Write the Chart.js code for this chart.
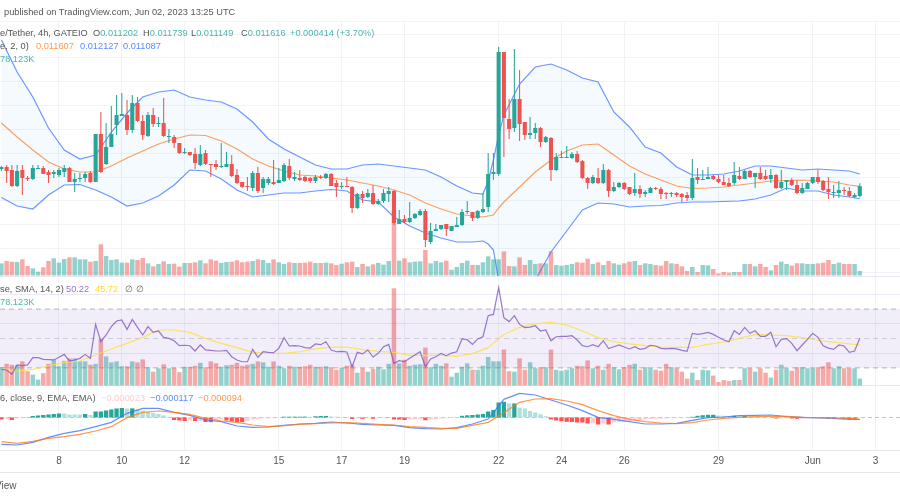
<!DOCTYPE html>
<html><head><meta charset="utf-8">
<script src="https://cdn.jsdelivr.net/npm/chart.js@4"></script>
<style>
html,body{margin:0;padding:0;background:#fff;overflow:hidden}
#wrap{position:relative;width:900px;height:500px;overflow:hidden;font-family:"Liberation Sans",sans-serif;font-size:9.25px;color:#555}
canvas{position:absolute;left:0;top:0}
.t{position:absolute;white-space:pre;line-height:12px;background:transparent}
.g{color:#4db6ac}.o{color:#ff9a4d}.b{color:#5b8cff}.p{color:#9575cd}.y{color:#fdd835}.k{color:#ffcdd2}.d{color:#666}
.rule{position:absolute;left:0;width:900px;height:1px;background:#e6e8ee}
</style></head><body>
<div id="wrap">
<canvas id="c" width="900" height="500"></canvas>
<div class="rule" style="top:472px"></div>
<div class="t" style="left:4px;top:6px;color:#555">published on TradingView.com, Jun 02, 2023 13:25 UTC</div>
<div class="t" style="left:0;top:27px">e/Tether, 4h, GATEIO</div>
<div class="t" style="left:93px;top:27px">O<span class="g">0.011202</span></div>
<div class="t" style="left:143px;top:27px">H<span class="g">0.011739</span></div>
<div class="t" style="left:191px;top:27px">L<span class="g">0.011149</span></div>
<div class="t" style="left:241px;top:27px">C<span class="g">0.011616</span></div>
<div class="t g" style="left:290px;top:27px">+0.000414 (+3.70%)</div>
<div class="t" style="left:0;top:40px">e, 2, 0)</div>
<div class="t o" style="left:36px;top:40px">0.011607</div>
<div class="t b" style="left:80px;top:40px">0.012127</div>
<div class="t b" style="left:123px;top:40px">0.011087</div>
<div class="t g" style="left:0;top:53px">78.123K</div>
<div class="t" style="left:0;top:283px">se, SMA, 14, 2)</div>
<div class="t p" style="left:66px;top:283px">50.22</div>
<div class="t y" style="left:95px;top:283px">45.72</div>
<div class="t d" style="left:125px;top:283px">∅</div>
<div class="t d" style="left:136px;top:283px">∅</div>
<div class="t g" style="left:0;top:296px">78.123K</div>
<div class="t" style="left:0;top:392px">6, close, 9, EMA, EMA)</div>
<div class="t k" style="left:101px;top:392px">−0.000023</div>
<div class="t b" style="left:150px;top:392px">−0.000117</div>
<div class="t o" style="left:198px;top:392px">−0.000094</div>
<div class="t" style="left:-5px;top:480px;font-size:10px">View</div>
</div>
<script>
// Prices below are in micro-USDT (1e-6 USDT); candle index 0 = 8 May 00:00, 4h candles
const candleIdx = Array.from({length:165},(_, k)=>k-11);
const opens = [12336,12420,12294,11622,12294,11958,11916,12336,12378,12210,12126,12084,12210,12378,11790,11916,11958,12168,11790,13806,12546,13260,14184,14562,14604,13974,15108,14352,13722,14604,14226,14268,13680,13680,13428,13008,13050,12966,12504,13008,12546,12546,12420,12420,12546,12084,11790,11622,11538,12168,11538,11748,11790,11748,11832,12462,11916,11958,
12000,11958,11832,12000,11958,12126,11748,11580,11622,11580,10698,11286,11160,11328,10866,10992,11286,11412,10026,10236,10110,10278,10404,10572,9270,9732,9816,10026,9732,9900,9984,10530,10530,10278,10530,10740,12126,12126,17250,14436,14058,15276,14310,13764,13848,14058,13470,13638,12294,12798,12798,12798,12966,12672,11958,11748,11958,
11748,12294,11412,11580,11748,11580,11328,11496,11286,11328,11538,11496,11328,11286,11328,11286,11244,11118,12000,11874,11916,12042,11916,11790,11748,11748,12042,11916,12252,12000,12168,12042,11916,12084,11538,11790,11874,11664,11328,11496,11748,12000,11832,11496,11328,11328,11454,11412,11160,11202];
const closes = [12420,12252,11622,12252,11958,11916,12378,12378,12126,12084,12210,12294,12378,11790,11916,11958,12126,11790,13806,12210,13260,13806,14604,14646,13974,15108,14352,13764,14604,14226,14268,13722,13722,13428,13008,13050,12924,12588,12966,12546,12504,12420,12462,12546,12042,11748,11580,11580,12168,11412,11916,11916,11706,11874,12504,11958,12000,11874,
11832,11832,12000,11958,12126,11622,11580,11622,11580,10698,11286,11118,11328,10866,10992,11328,11412,10068,10236,10110,10278,10446,10572,9354,9732,9816,9984,9816,9942,9984,10530,10572,10278,10572,10656,12126,12210,17250,14478,14016,15276,14226,13764,13848,14058,13470,13680,12294,12840,12840,12840,12966,12630,11958,11748,12000,11748,
12294,11412,11580,11748,11496,11286,11496,11286,11370,11538,11496,11286,11286,11328,11244,11160,11118,11958,11874,11916,12000,11916,11790,11664,11622,12084,11916,12252,12000,12168,11916,11916,12084,11538,11790,11874,11664,11328,11538,11748,12000,11790,11454,11370,11370,11454,11412,11202,11244,11616];
const highs = [12462,12504,12504,12504,12504,12042,12504,12504,12462,12294,12294,12378,12504,12420,12168,12168,12210,12252,13806,14730,14268,14982,15444,15528,15234,15444,15360,14604,14730,14898,14520,15318,14016,13764,13428,13218,13050,13218,13344,13134,12546,12714,13428,13050,12924,12336,11790,12000,12252,12420,12000,12000,12714,12378,12588,12756,12210,12294,
12042,12000,12084,12084,12168,12168,11874,11790,12000,11622,11328,11412,11496,11664,11076,11496,11580,11454,10614,10404,10950,10488,10656,10656,10068,10026,9984,10026,9942,10320,10656,10992,10530,10614,11328,13008,13008,17460,17250,15276,17376,16494,14310,14520,14268,14100,13722,13680,13008,13092,13302,13050,13092,12714,12000,12084,12378,
12546,12336,11790,11790,11790,11580,12168,11664,11454,11580,11580,11580,11370,11370,11370,11328,11370,12756,12378,12294,12420,12084,12084,12084,11958,12630,12420,12294,12294,12168,12420,12294,12336,12126,12294,11874,11958,11874,11748,11790,12000,12294,11874,12000,11664,11832,11580,11580,11328,11739];
const lows = [12252,11748,11580,11580,11244,11832,11874,12336,12126,11748,11958,12000,12000,11790,11370,11790,11790,11748,11790,12168,12504,13260,13764,14562,13764,13848,14310,13554,13680,14100,14100,13680,13428,13218,12966,12966,12882,12336,12462,12504,12000,12294,12378,12420,12000,11706,11538,11412,11412,11328,11328,11664,11664,11748,11790,11874,11832,11832,
11790,11748,11748,11916,11916,11622,11160,11496,11580,10488,10656,10908,11118,10824,10824,10908,10950,9984,10026,10068,10068,10236,10362,9060,9186,9732,9774,9522,9732,9900,9942,10446,10152,10236,10488,10530,11874,12042,12840,13596,13890,13512,13554,13596,13596,13260,13428,11832,12252,12798,12798,12756,12588,11916,11496,11706,11706,
11706,11160,11370,11538,11454,11244,11202,11118,11160,11328,11454,11076,11076,11160,11160,10950,10992,11034,11706,11874,11916,11874,11748,11664,11580,11664,11874,11916,11958,11538,11874,11874,11748,11496,11496,11454,11622,11286,11286,11496,11706,11706,11412,11076,11118,11118,11244,11160,11118,11149];
// volume in K
const volumes = [950,1125,1075,1050,1250,750,575,325,650,1125,1325,1000,1275,1400,1400,1250,1250,1075,1125,2375,1500,1200,1250,1000,1000,1250,1200,1350,950,725,900,1100,900,925,700,975,975,1025,1175,950,1250,1150,975,1050,1075,1175,1025,1075,1125,1250,1200,975,1250,1025,900,1025,975,975,
1000,1075,975,975,1000,950,825,925,1025,1075,675,900,725,875,975,850,1125,4950,1150,1325,1025,1075,1100,1950,950,1125,1025,1150,475,675,975,1150,825,825,1025,1475,1250,1250,1850,750,725,1400,825,1200,900,950,950,1850,825,775,825,900,1025,1000,1300,900,1025,
825,1125,950,850,950,1075,1125,825,950,900,825,775,1125,950,900,725,375,675,300,825,800,525,200,300,250,300,300,900,900,725,900,675,425,825,1075,900,775,950,950,900,900,950,1000,1200,900,1000,900,900,900,378];
// Bollinger bands, sampled candles
const bandIdx = [-11,-8,-5,-2,1,4,7,10,13,16,19,22,25,28,31,34,37,40,43,46,49,52,55,58,61,64,67,70,73,76,79,81,82,83,84,85,88,91,94,97,100,103,106,109,112,115,118,121,124,127,130,133,136,139,142,145,148,151,153];
const bandUpper = [17754,16410,15360,14058,13134,12756,12924,13890,14688,15360,15570,15654,15360,15234,15150,14856,14310,13596,13176,12840,12504,12336,12336,12504,12546,12462,12378,12294,12000,11622,11328,11286,11832,12714,13764,14604,15906,16620,16746,16494,16158,15990,14730,14100,13260,13008,12420,12084,12084,12126,12252,12462,12462,12378,12294,12336,12294,12252,12127];
const bandBasis = [14268,13680,13134,12630,12336,12210,12210,12462,12798,13092,13386,13596,13764,13743,13512,13176,12756,12462,12252,12084,12042,11958,11874,11748,11622,11454,11244,10908,10656,10446,10362,10320,10362,10404,10698,10950,11580,12210,12714,13092,13344,13386,12924,12462,12126,11874,11622,11517,11538,11580,11664,11748,11832,11853,11874,11832,11790,11664,11607];
const bandLower = [11139,10782,10656,11244,11664,11685,11454,11160,10782,10908,11202,11664,12294,12252,11916,11454,11160,11244,11328,11328,11412,11475,11412,11034,10950,10320,9942,9648,9438,9270,9270,9312,9186,8934,7674,6834,6624,7674,8850,9732,10614,10908,10866,10740,10782,10803,10908,10950,10950,10971,10992,11076,11244,11538,11412,11412,11244,11160,11087];
const bandPaneFloor = 7842;
// RSI per candle, RSI MA sampled
const rsi = [29.0,28.6,25.6,32.0,31.5,32.0,37.0,37.0,35.8,35.6,35.4,37.2,39.2,34.7,35.4,36.5,39.2,36.5,59.6,47.8,52.4,58.1,61.9,62.6,56.2,63.0,57.6,52.4,58.1,54.2,55.1,50.8,50.1,48.5,45.1,45.4,45.1,41.5,45.6,42.2,41.9,41.5,41.5,41.9,37.6,35.4,34.2,34.2,42.6,37.2,41.0,40.6,40.4,43.3,50.6,44.9,45.1,44.9,
43.8,43.5,46.3,45.8,47.8,42.2,41.0,41.3,40.8,30.8,40.6,39.5,42.2,37.4,39.9,44.4,46.0,33.1,34.9,34.2,36.5,38.8,41.0,30.8,36.1,37.6,39.9,38.3,40.1,41.0,49.7,49.2,46.0,49.7,51.2,65.5,66.4,84.6,64.2,61.5,65.5,59.6,57.4,57.8,58.7,55.1,55.8,48.5,51.2,51.5,51.5,51.9,49.0,45.1,44.4,45.8,44.4,
48.5,43.1,44.4,45.6,44.2,42.9,44.4,42.6,43.3,45.4,44.9,43.3,42.9,43.3,42.9,41.9,41.3,53.5,52.8,53.3,54.2,52.8,50.8,49.0,47.8,55.3,52.8,57.6,53.5,55.3,51.5,51.5,54.2,44.4,49.4,49.9,46.7,41.7,45.6,49.4,53.5,50.8,45.1,43.5,42.6,45.6,44.9,40.6,41.5,50.22];
const sampleIdx = [-11,-8,-5,-2,1,4,7,10,13,16,19,22,25,28,31,34,37,40,43,46,49,52,55,58,61,64,67,70,73,76,79,82,85,88,91,94,97,100,103,106,109,112,115,118,121,124,127,130,133,136,139,142,145,148,151,153];
const rsiMa = [29.2,27.9,29.0,31.3,33.8,34.7,38.8,42.9,46.7,50.8,55.8,55.8,54.2,50.1,46.7,43.8,40.6,39.9,39.9,41.0,42.9,44.2,44.2,42.4,41.3,40.6,38.5,38.5,38.5,37.9,39.7,43.8,52.8,57.6,59.9,61.0,59.2,55.1,50.6,47.8,46.3,45.1,44.2,44.0,44.0,46.0,47.6,50.1,52.8,52.4,51.9,50.6,48.8,47.6,46.3,45.72];
const rsiLevels = [70,50,30];
// MACD in micro-units
const macdHist = [-116,-87,-145,-58,-29,17,87,116,145,174,203,232,232,174,174,174,203,145,348,350,406,464,522,551,522,530,464,406,319,261,203,116,41,-145,-174,-203,-174,-203,-200,-261,-270,-145,-116,-174,-232,-261,-270,-203,-116,-87,-58,-55,-50,-29,46,47,48,49,
50,41,70,87,90,58,41,23,17,-87,-58,-75,-58,-75,-46,-29,12,-116,-120,-145,-116,-110,-87,-157,-116,-99,-58,-46,-29,-17,99,128,145,174,203,348,435,870,911,812,815,580,522,377,290,191,75,-116,-174,-215,-250,-261,-290,-292,-348,-340,-406,
-348,-406,-290,-261,-250,-215,-174,-157,-116,-87,-75,-70,-58,-46,-41,-35,-29,41,99,133,157,160,116,99,87,99,75,87,58,41,29,17,12,-58,-41,-40,-58,-75,-70,-46,-23,12,-29,-46,-58,-41,-46,-87,-88,-23];
const macdLine = [-1556,-1595,-1440,-1150,-918,-764,-532,-280,242,532,532,300,126,-145,-242,-493,-570,-551,-454,-377,-338,-261,-319,-396,-435,-454,-590,-648,-667,-590,-377,-87,1054,1401,1305,1015,725,396,10,-106,-242,-377,-377,-338,-164,-10,29,106,126,145,48,10,-29,-48,-106,-117];
const macdSignal = [-1401,-1498,-1382,-1208,-1111,-976,-783,-532,-10,300,377,300,184,-48,-203,-280,-435,-532,-474,-396,-358,-319,-300,-338,-396,-435,-532,-570,-628,-628,-454,-280,280,880,1073,1092,957,744,396,106,-106,-242,-319,-358,-300,-145,-48,10,48,68,68,10,-10,-29,-48,-94];
// Axis ticks and grid
const dayTickIdx = [0,12,24,42,54,66,84,96,108,126,144,156];
const dayTickLabels = ['8','10','12','15','17','19','22','24','26','29','Jun','3'];
const priceGrid = [18552,18000,17000,16000,15000,14000,13000,12000,11000,10000,9000,8000];
const rsiGrid = [80,60,40];

[opens,closes,highs,lows,volumes,rsi,macdHist].forEach(a=>{if(a.length!==candleIdx.length)throw new Error('len '+a.length)});
[bandUpper,bandBasis,bandLower].forEach(a=>{if(a.length!==bandIdx.length)throw new Error('band '+a.length)});
[rsiMa,macdLine,macdSignal].forEach(a=>{if(a.length!==sampleIdx.length)throw new Error('sample '+a.length)});

const GREEN='#26a69a',RED='#ef5350';
const xMin=-11.27,xMax=160.68;
const pts=(xs,ys)=>xs.map((x,k)=>({x,y:ys[k]}));
const isUp=k=>closes[k]>=opens[k];
const candleColor=candleIdx.map((_,k)=>isUp(k)?GREEN:RED);
const volColor=candleIdx.map((_,k)=>isUp(k)?'rgba(38,166,154,.5)':'rgba(239,83,80,.5)');
const histColor=macdHist.map((v,k)=>{const p=k?macdHist[k-1]:0;return v>=0?(v>p?'#26a69a':'#b2dfdb'):(v<p?'#ff5252':'#ffcdd2')});
const gridAxis=(min,max,ticks,color)=>({type:'linear',position:'left',display:true,min,max,bounds:'data',
  ticks:{display:false},border:{display:false},grid:{color,drawTicks:false,tickLength:0,lineWidth:1},
  afterBuildTicks(a){a.ticks=ticks.map(value=>({value}))},afterFit(a){a.width=0}});
const line=(o)=>Object.assign({type:'line',pointRadius:0,tension:0,borderWidth:1,fill:false,spanGaps:false},o);
const bars=(o)=>Object.assign({type:'bar',grouped:false,borderWidth:0,categoryPercentage:1},o);
const mainClip={left:0,right:0,top:0,bottom:-174};

const datasets=[
 // main pane
 line({label:'fillEdge',yAxisID:'yPrice',data:pts(bandIdx,bandLower.map(v=>Math.max(v,bandPaneFloor))),borderWidth:0,borderColor:'transparent',order:100}),
 line({label:'upper',yAxisID:'yPrice',data:pts(bandIdx,bandUpper),borderColor:'rgba(60,115,255,.75)',borderWidth:1.2,fill:{target:0},backgroundColor:'rgba(33,150,243,.05)',clip:mainClip,order:90}),
 bars({label:'volume',yAxisID:'yVol',data:pts(candleIdx,volumes),backgroundColor:volColor,barPercentage:.86,order:80}),
 line({label:'basis',yAxisID:'yPrice',data:pts(bandIdx,bandBasis),borderColor:'rgba(255,125,30,.72)',borderWidth:1.2,clip:mainClip,order:75}),
 line({label:'lower',yAxisID:'yPrice',data:pts(bandIdx,bandLower),borderColor:'rgba(60,115,255,.75)',borderWidth:1.2,clip:mainClip,order:74}),
 bars({label:'wick',yAxisID:'yPrice',data:candleIdx.map((x,k)=>({x,y:[lows[k],highs[k]]})),backgroundColor:candleColor,barPercentage:.2,order:70}),
 bars({label:'body',yAxisID:'yPrice',data:candleIdx.map((x,k)=>({x,y:[opens[k],closes[k]]})),backgroundColor:candleColor,barPercentage:.78,order:69}),
 // RSI pane
 bars({label:'volumeRsi',yAxisID:'yVolR',data:pts(candleIdx,volumes),backgroundColor:volColor,barPercentage:.86,order:60}),
 line({label:'rsi30',yAxisID:'yRsi',data:pts([xMin,xMax],[rsiLevels[2],rsiLevels[2]]),borderColor:'rgba(120,123,134,.55)',borderDash:[5,4],order:55}),
 line({label:'rsi70',yAxisID:'yRsi',data:pts([xMin,xMax],[rsiLevels[0],rsiLevels[0]]),borderColor:'rgba(120,123,134,.55)',borderDash:[5,4],fill:{target:'-1'},backgroundColor:'rgba(126,87,194,.1)',order:54}),
 line({label:'rsi50',yAxisID:'yRsi',data:pts([xMin,xMax],[rsiLevels[1],rsiLevels[1]]),borderColor:'rgba(120,123,134,.3)',borderDash:[5,4],order:53}),
 line({label:'rsiMa',yAxisID:'yRsi',data:pts(sampleIdx,rsiMa),borderColor:'rgba(253,225,70,.85)',borderWidth:1.2,order:52}),
 line({label:'rsi',yAxisID:'yRsi',data:pts(candleIdx,rsi),borderColor:'rgba(126,87,194,.8)',borderWidth:1.2,order:51}),
 // MACD pane
 line({label:'macdZero',yAxisID:'yMacd',data:pts([xMin,xMax],[0,0]),borderColor:'rgba(120,123,134,.45)',borderDash:[4,3],order:45}),
 bars({label:'hist',yAxisID:'yMacd',data:pts(candleIdx,macdHist),backgroundColor:histColor,barPercentage:.82,order:44}),
 line({label:'macd',yAxisID:'yMacd',data:pts(sampleIdx,macdLine),borderColor:'rgba(60,115,255,.8)',borderWidth:1.2,order:43}),
 line({label:'signal',yAxisID:'yMacd',data:pts(sampleIdx,macdSignal),borderColor:'rgba(255,125,30,.8)',borderWidth:1.2,order:42})
];

new Chart(document.getElementById('c'),{
 type:'bar',
 data:{datasets},
 options:{responsive:false,animation:false,devicePixelRatio:1,
  layout:{padding:{top:21,left:0,right:0,bottom:0},autoPadding:false},
  plugins:{legend:{display:false},title:{display:false},tooltip:{enabled:false}},
  events:[],
  scales:{
   x:{type:'linear',position:'bottom',min:xMin,max:xMax,bounds:'data',offset:false,
      grid:{offset:false,color:'#f0f2f6',drawTicks:false,tickLength:0,lineWidth:1},
      border:{display:true,color:'#e6e8ee'},
      afterBuildTicks(a){a.ticks=dayTickIdx.map(value=>({value}))},
      afterFit(a){a.height=50},
      ticks:{autoSkip:false,maxRotation:0,padding:5,color:'#555',font:{family:'"Liberation Sans",sans-serif',size:10},
        callback(v){const k=dayTickIdx.indexOf(v);return k<0?'':dayTickLabels[k]}}},
   yPrice:gridAxis(534,18552,priceGrid,'#f1f3f7'),
   yVol:gridAxis(-13050,19125,[0],'#e6e8ee'),
   yVolR:gridAxis(-3245,18505,[0],'#e6e8ee'),
   yRsi:gridAxis(-25.85,266,rsiGrid,'#ece8f5'),
   yMacd:{type:'linear',display:false,min:-1885,max:22997,bounds:'data'}
  }
 }
});
</script>
</body></html>
